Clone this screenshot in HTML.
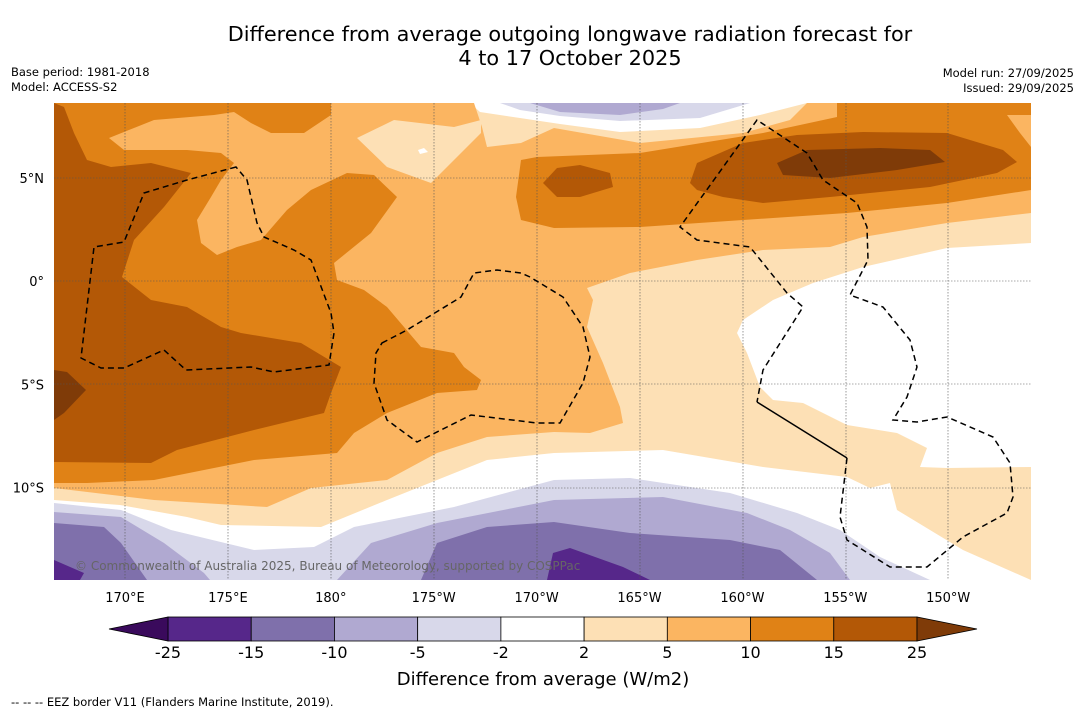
<!DOCTYPE html>
<html><head><meta charset="utf-8"><style>
body{margin:0;width:1085px;height:713px;background:#fff;font-family:"DejaVu Sans","Liberation Sans",sans-serif;overflow:hidden;position:relative}
.t{position:absolute;color:#000}
svg{font-family:"DejaVu Sans","Liberation Sans",sans-serif}
</style></head><body>
<div class="t" style="left:0;width:1140px;top:22px;text-align:center;font-size:20.8px;line-height:24px">Difference from average outgoing longwave radiation forecast for<br>4 to 17 October 2025</div>
<div class="t" style="left:11px;top:65px;font-size:11.5px;line-height:15px">Base period: 1981-2018<br>Model: ACCESS-S2</div>
<div class="t" style="right:11px;top:66px;font-size:11.5px;line-height:15px;text-align:right">Model run: 27/09/2025<br>Issued: 29/09/2025</div>
<svg width="1085" height="713" style="position:absolute;left:0;top:0">
<defs><clipPath id="mc"><rect x="54" y="103" width="977" height="477"/></clipPath></defs>
<g clip-path="url(#mc)">
<rect x="54" y="103" width="977" height="477" fill="#fde0b5"/>
<g fill="#fff">
<polygon points="470,103 480,112 520,118 560,124 620,132 700,128 760,115 807,103"/>
<polygon points="1031,243 947,248 863,267 813,283 773,300 743,320 737,333 747,353 760,387 773,400 803,403 847,425 897,433 927,448 920,467 947,468 1031,467"/>
<polygon points="54,500 120,505 187,517 221,525 321,527 387,500 487,460 554,453 663,450 763,467 847,477 870,488 890,483 897,510 963,550 1031,580 54,580"/>
</g>
<polygon fill="#d8d8ea" points="500,103 520,110 560,116 620,121 700,118 750,103"/>
<polygon fill="#b0a9d1" points="530,103 560,112 620,115 663,109 680,103"/>
<polygon fill="#d8d8ea" points="54,503 121,510 171,530 254,550 314,547 354,527 454,507 554,480 630,478 730,493 797,513 840,530 880,557 930,580 54,580"/>
<polygon fill="#b0a9d1" points="54,512 121,517 164,543 204,573 210,580 54,580"/>
<polygon fill="#b0a9d1" points="337,580 371,543 437,523 554,500 663,497 747,513 790,530 830,553 850,580"/>
<polygon fill="#7f70ab" points="54,523 104,527 121,543 147,580 54,580"/>
<polygon fill="#7f70ab" points="421,580 437,543 487,527 554,522 630,533 730,540 780,550 817,580"/>
<polygon fill="#56278a" points="547,580 553,553 570,548 623,567 650,580"/>
<polygon fill="#56278a" points="54,560 84,573 80,580 54,580"/>
<polygon fill="#fbb561" points="54,103 474,103 482,127 487,147 521,143 554,128 640,143 743,133 790,120 807,103 1031,103 1031,213 947,223 863,237 830,247 763,250 697,260 630,273 587,288 593,300 587,327 603,363 620,407 623,423 590,433 554,432 487,437 437,453 387,480 311,488 267,507 154,500 54,488"/>
<polygon fill="#fde0b5" points="357,138 394,120 454,127 481,120 481,133 451,163 431,183 387,167"/>
<polygon fill="#fff" points="418,150 424,148 428,152 420,154"/>
<polygon fill="#e08216" points="54,103 331,103 331,115 304,133 271,133 251,123 234,112 214,115 154,120 109,138 124,150 187,150 221,153 234,163 221,180 211,197 197,220 201,243 217,255 237,247 261,240 287,210 311,190 347,173 374,175 397,197 371,233 334,263 337,280 364,290 387,307 421,347 454,353 464,367 481,380 477,390 437,393 387,413 354,433 337,453 254,460 154,480 87,483 54,483"/>
<polygon fill="#e08216" points="521,160 516,197 521,220 554,228 640,227 743,220 847,213 947,203 1031,190 1031,147 1020,133 1007,115 1031,115 1031,103 837,103 837,117 763,133 640,153 537,157"/>
<polygon fill="#b35806" points="54,103 64,107 74,133 87,160 111,167 151,163 191,173 164,207 134,240 122,277 151,300 187,307 221,327 241,333 301,343 341,367 331,393 324,413 254,430 177,450 151,463 54,462"/>
<polygon fill="#7f3b08" points="54,370 67,372 86,390 64,413 54,420"/>
<polygon fill="#b35806" points="543,183 557,168 580,165 610,173 613,187 580,197 557,197"/>
<polygon fill="#b35806" points="690,183 697,163 743,143 797,135 863,132 947,133 1003,150 1017,162 997,173 930,187 830,197 763,203 723,197 697,190"/>
<polygon fill="#7f3b08" points="777,163 807,150 880,148 930,150 945,162 897,170 830,178 783,175"/>
<g stroke="#555" stroke-width="0.6" stroke-dasharray="1.5,1.5" fill="none">
<line x1="125" y1="103" x2="125" y2="580"/><line x1="228" y1="103" x2="228" y2="580"/><line x1="331" y1="103" x2="331" y2="580"/><line x1="434" y1="103" x2="434" y2="580"/><line x1="537" y1="103" x2="537" y2="580"/><line x1="640" y1="103" x2="640" y2="580"/><line x1="743" y1="103" x2="743" y2="580"/><line x1="846" y1="103" x2="846" y2="580"/><line x1="948" y1="103" x2="948" y2="580"/>
<line x1="54" y1="178" x2="1031" y2="178"/><line x1="54" y1="281" x2="1031" y2="281"/><line x1="54" y1="384" x2="1031" y2="384"/><line x1="54" y1="488" x2="1031" y2="488"/>
</g>
<g stroke="#000" stroke-width="1.5" fill="none" stroke-dasharray="6,4">
<polygon points="236,167 187,180 144,193 124,242 94,247 81,358 101,368 124,368 164,350 186,370 251,367 274,372 329,365 334,333 331,313 311,260 294,250 264,237 257,223 247,180"/>
<polygon points="382,343 407,330 461,297 474,273 497,270 521,273 530,277 563,297 583,327 590,357 583,383 560,423 537,423 471,415 417,442 387,420 374,383 376,353"/>
<polyline points="847,458 840,517 847,540 890,567 927,567 963,537 1007,513 1013,497 1010,463 993,437 947,417 917,422 893,420 907,397 917,367 910,340 883,307 850,295 868,260 867,227 857,203 823,180 807,153 757,120 680,227 697,240 750,247 787,293 803,307 763,370 757,402"/>
</g>
<line x1="757" y1="402" x2="847" y2="458" stroke="#000" stroke-width="1.5"/>
<text x="75" y="570" font-size="12" fill="#666">© Commonwealth of Australia 2025, Bureau of Meteorology, supported by COSPPac</text>
</g>
<g font-size="13" text-anchor="middle" id="lonlab"></g>
<g font-size="13" text-anchor="end" id="latlab"></g>
<g id="cbar"></g>
<text x="543" y="685" font-size="18" text-anchor="middle">Difference from average (W/m2)</text>
<text x="11" y="706" font-size="11.5">--  --  -- EEZ border V11 (Flanders Marine Institute, 2019).</text>
</svg>
<script>
const lonLabels=["170°E","175°E","180°","175°W","170°W","165°W","160°W","155°W","150°W"];
const lonValues=[170,175,180,185,190,195,200,205,210];
const latLabels=["5°N","0°","5°S","10°S"];
const latValues=[5,0,-5,-10];
const cbLevels=[-25,-15,-10,-5,-2,2,5,10,15,25];
const cbColors=["#56278a","#7f70ab","#b0a9d1","#d8d8ea","#ffffff","#fde0b5","#fbb561","#e08216","#b35806"];
const ns="http://www.w3.org/2000/svg";
const xLon=v=>125+(v-170)*20.58;
const yLat=v=>281-v*20.65;
const lg=document.getElementById('lonlab');
lonValues.forEach((v,i)=>{const t=document.createElementNS(ns,'text');t.setAttribute('x',xLon(v));t.setAttribute('y',602);t.textContent=lonLabels[i];


lg.appendChild(t);});
const la=document.getElementById('latlab');
latValues.forEach((v,i)=>{const t=document.createElementNS(ns,'text');t.setAttribute('x',44);t.setAttribute('y',yLat(v)+5);t.textContent=latLabels[i];


la.appendChild(t);});
const cb=document.getElementById('cbar');
const x0=168,w=(917-168)/cbColors.length,y0=617,h=24;
cbColors.forEach((c,i)=>{const r=document.createElementNS(ns,'rect');r.setAttribute('x',x0+i*w);r.setAttribute('y',y0);r.setAttribute('width',w);r.setAttribute('height',h);r.setAttribute('fill',c);r.setAttribute('stroke','#000');r.setAttribute('stroke-width','0.8');


cb.appendChild(r);});
[["#3a0a5c",`${x0},${y0} ${x0},${y0+h} 109,${y0+h/2}`],["#7f3b08",`917,${y0} 917,${y0+h} 977,${y0+h/2}`]].forEach(([c,p])=>{const g=document.createElementNS(ns,'polygon');g.setAttribute('points',p);g.setAttribute('fill',c);g.setAttribute('stroke','#000');g.setAttribute('stroke-width','0.8');


cb.appendChild(g);});
cbLevels.forEach((v,i)=>{const t=document.createElementNS(ns,'text');t.setAttribute('x',x0+i*w);t.setAttribute('y',658);t.setAttribute('font-size','16');t.setAttribute('text-anchor','middle');t.textContent=v;


cb.appendChild(t);});
</script>
</body></html>
